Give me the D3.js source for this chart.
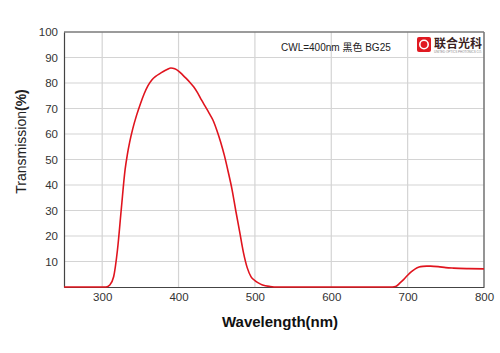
<!DOCTYPE html>
<html>
<head>
<meta charset="utf-8">
<script src="https://cdn.jsdelivr.net/npm/d3@7"></script>
<style>
  body { margin: 0; background: #fff; }
  text { font-family: "Liberation Sans", Arial, sans-serif; }
</style>
</head>
<body>
<svg id="chart" width="500" height="353"></svg>
<script>
// transmission curve
const wavelengths = [250, 300, 305, 310, 315, 320, 325, 330, 333, 336, 340, 345, 350, 355, 360, 365, 370, 375, 380, 385, 390,
  395, 400, 405, 410, 415, 420, 425, 430, 435, 440, 445, 450, 455, 460, 465, 470, 475, 480, 485, 490,
  495, 500, 505, 510, 520, 530, 600, 680, 685, 690, 695, 700, 705, 710, 715, 720, 725, 730, 740, 750,
  760, 780, 800];
const transmission = [0, 0, 0, 0.8, 4, 14.5, 30.5, 46, 52, 56.8, 62, 67.3, 71.8, 75.8, 79, 81.2, 82.6, 83.6, 84.5, 85.3, 85.9,
  85.6, 84.7, 83.3, 81.8, 80.2, 78.4, 76.1, 73.4, 70.8, 68.2, 65.5, 61.6, 57, 51.6, 45.2, 38.3, 29.8, 21.7, 13.5, 7.5,
  4, 2.5, 1.5, 0.8, 0.2, 0, 0, 0, 0.3, 1.6, 3, 4.6, 6, 7.1, 7.8, 8.1, 8.2, 8.2, 8, 7.6,
  7.4, 7.2, 7.1];
const xTicks = [300, 400, 500, 600, 700, 800];
const yTicks = [10, 20, 30, 40, 50, 60, 70, 80, 90, 100];

const margin = { top: 32, right: 16, bottom: 66, left: 64 },
  width = 500 - margin.left - margin.right,
  height = 353 - margin.top - margin.bottom;

const svg = d3.select("#chart")
  .append("g")
  .attr("transform", `translate(${margin.left},${margin.top})`);

const x = d3.scaleLinear().domain([250, 800]).range([0, width]);
const y = d3.scaleLinear().domain([0, 100]).range([height, 0]);

// grid
svg.append("g")
  .selectAll("line.vg")
  .data(xTicks.slice(0, -1))
  .join("line")
  .attr("x1", d => x(d)).attr("x2", d => x(d))
  .attr("y1", 0).attr("y2", height)
  .attr("stroke", "#d4d4d4").attr("stroke-width", 1.2);
svg.append("g")
  .selectAll("line.hg")
  .data(yTicks.slice(0, -1))
  .join("line")
  .attr("x1", 0).attr("x2", width)
  .attr("y1", d => y(d)).attr("y2", d => y(d))
  .attr("stroke", "#d4d4d4").attr("stroke-width", 1.2);

// frame top/right
svg.append("line").attr("x1", 0).attr("x2", width).attr("y1", 0).attr("y2", 0)
  .attr("stroke", "#7a7a7a").attr("stroke-width", 1.6);
svg.append("line").attr("x1", width).attr("x2", width).attr("y1", 0).attr("y2", height)
  .attr("stroke", "#7a7a7a").attr("stroke-width", 1.6);

// axes
const xAxis = svg.append("g")
  .attr("transform", `translate(0,${height})`)
  .call(d3.axisBottom(x).tickValues(xTicks).tickSize(0).tickPadding(6));
const yAxis = svg.append("g")
  .call(d3.axisLeft(y).tickValues(yTicks).tickSize(0).tickPadding(6));
[xAxis, yAxis].forEach(a => {
  a.select(".domain").attr("stroke", "#444").attr("stroke-width", 1.2);
  a.selectAll("text").attr("fill", "#333").style("font-size", "11.5px")
    .style("font-family", "'Liberation Sans', Arial, sans-serif");
});

// curve
const line = d3.line()
  .x((d, i) => x(wavelengths[i]))
  .y(d => y(d))
  .curve(d3.curveMonotoneX);
svg.append("path")
  .datum(transmission)
  .attr("fill", "none")
  .attr("stroke", "#e0141e")
  .attr("stroke-width", 1.6)
  .attr("d", line);

// axis titles
svg.append("text")
  .attr("x", width / 2 + 6)
  .attr("y", height + 40)
  .attr("text-anchor", "middle")
  .style("font-size", "15px")
  .style("font-weight", "bold")
  .attr("fill", "#111")
  .text("Wavelength(nm)");

const yt = svg.append("text")
  .attr("transform", `translate(${-38},${height / 2 - 18}) rotate(-90)`)
  .attr("text-anchor", "middle")
  .style("font-size", "14px")
  .attr("fill", "#222");
yt.append("tspan").text("Transmission");
yt.append("tspan").style("font-weight", "bold").text("(%)");

// annotation
svg.append("text")
  .attr("x", 217)
  .attr("y", 19)
  .style("font-size", "10px")
  .style("font-family", "'Liberation Sans', 'Noto Sans CJK SC', sans-serif")
  .attr("fill", "#222")
  .text("CWL=400nm 黑色 BG25");

// logo
const logo = svg.append("g").attr("transform", `translate(${width - 67},5)`);
logo.append("rect").attr("width", 14).attr("height", 15).attr("rx", 2).attr("fill", "#e01a22");
logo.append("circle").attr("cx", 7).attr("cy", 7.5).attr("r", 4.2).attr("fill", "none")
  .attr("stroke", "#fff").attr("stroke-width", 1.6);
logo.append("text")
  .attr("x", 17).attr("y", 11)
  .style("font-size", "12px")
  .style("font-weight", "bold")
  .style("font-family", "'Noto Sans CJK SC', sans-serif")
  .attr("fill", "#3a1f1f")
  .text("联合光科");
logo.append("text")
  .attr("x", 17).attr("y", 16)
  .style("font-size", "3px")
  .attr("fill", "#888")
  .text("UNITED OPTICS  PHOTONICS CO.");
</script>
</body>
</html>
